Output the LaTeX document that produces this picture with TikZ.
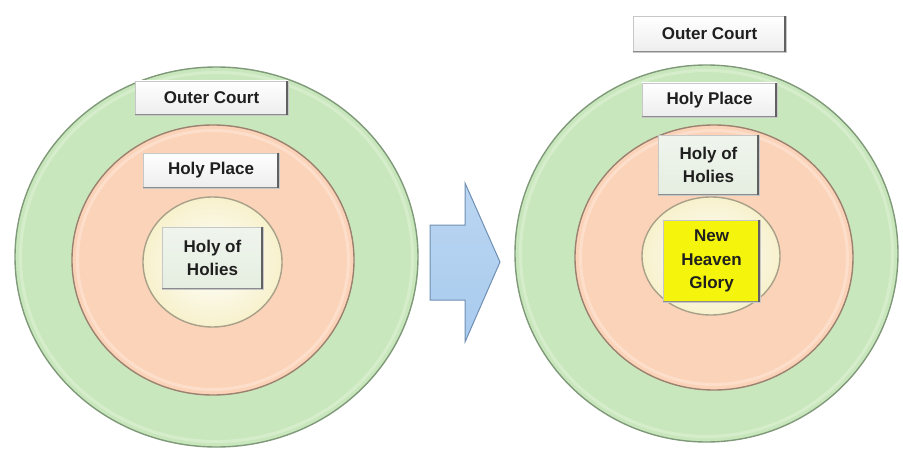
\documentclass[tikz,border=0pt]{standalone}
\usepackage{fontspec}
\setmainfont{Liberation Sans}
\usetikzlibrary{shapes.geometric}

\definecolor{ringgreen}{HTML}{C9E7BC}
\definecolor{greenedge}{HTML}{7F9979}
\definecolor{ringsalmon}{HTML}{FBD3B9}
\definecolor{salmonedge}{HTML}{9C8170}
\definecolor{ringcream}{HTML}{F7F1CC}
\definecolor{creamedge}{HTML}{A8A088}
\definecolor{boxgreen}{HTML}{E5EEE1}
\definecolor{glory}{HTML}{F4F40C}
\definecolor{arrowblue}{HTML}{A9CBEE}
\definecolor{arrowedge}{HTML}{6F8FB3}

\tikzset{
  ring/.style={ellipse, inner sep=0pt, line width=1.4pt},
  highlight/.style={white, opacity=0.25, line width=3pt},
  labelbox/.style={rectangle, inner sep=0pt, draw=black!22, line width=0.7pt,
    font=\bfseries\fontsize{17}{23.5}\selectfont, align=center, text=black!88},
  whitebox/.style={labelbox, top color=white, bottom color=black!7},
  greenbox/.style={labelbox, top color=boxgreen!60, bottom color=boxgreen},
  yellowbox/.style={labelbox, fill=glory},
}

\begin{document}
\begin{tikzpicture}[x=1pt, y=-1pt]
  \useasboundingbox (0,0) rectangle (903,452);
  \fill[white] (0,0) rectangle (903,452);

  % left court plan
  \node[ring, draw=greenedge, fill=ringgreen, minimum width=403pt, minimum height=380pt] (g1) at (216.5,257) {};
  \node[ring, draw=salmonedge, fill=ringsalmon, minimum width=282pt, minimum height=270pt] (s1) at (213,260) {};
  \node[ring, draw=creamedge, inner color=white, outer color=ringcream, minimum width=139pt, minimum height=130pt] (c1) at (212.5,262) {};

  % right court plan
  \node[ring, draw=greenedge, fill=ringgreen, minimum width=383pt, minimum height=377pt] (g2) at (706.5,253.5) {};
  \node[ring, draw=salmonedge, fill=ringsalmon, minimum width=278pt, minimum height=265pt] (s2) at (714,257.5) {};
  \node[ring, draw=creamedge, inner color=white, outer color=ringcream, minimum width=138pt, minimum height=118pt] (c2) at (711,256) {};

  % soft highlights just inside the ring edges
  \draw[highlight] (216.5,257) ellipse [x radius=196pt, y radius=184.5pt];
  \draw[highlight] (213,260) ellipse [x radius=135.5pt, y radius=129.5pt];
  \draw[highlight] (706.5,253.5) ellipse [x radius=186pt, y radius=183pt];
  \draw[highlight] (714,257.5) ellipse [x radius=133.5pt, y radius=127pt];

  % transition arrow
  \draw[arrowedge, line width=1pt, top color=arrowblue!80!white, bottom color=arrowblue, line join=miter]
    (430,225) -- (465,225) -- (465,183) -- (500,262) -- (465,342) -- (465,300) -- (430,300) -- cycle;

  % labels, left
  \node[whitebox, minimum width=153pt, minimum height=34pt] (oc1) at (211.5,98) {Outer Court};
  \node[whitebox, minimum width=136pt, minimum height=35pt] (hp1) at (211,170.5) {Holy Place};
  \node[greenbox, minimum width=101pt, minimum height=62pt] (hh1) at (212.5,258) {Holy of\\Holies};

  % labels, right
  \node[whitebox, minimum width=153pt, minimum height=36pt] (oc2) at (709.5,34) {Outer Court};
  \node[whitebox, minimum width=135pt, minimum height=34pt] (hp2) at (709.5,100) {Holy Place};
  \node[greenbox, minimum width=101pt, minimum height=60pt] (hh2) at (708.5,165) {Holy of\\Holies};
  \node[yellowbox, minimum width=97pt, minimum height=82pt] (nh) at (711.5,261) {New\\Heaven\\Glory};

  % bevel shadows on the label boxes
  \foreach \n in {oc1,hp1,hh1,oc2,hp2,hh2,nh} {
    \draw[black!62, line width=2.6pt] ([xshift=-1.3pt]\n.north east) -- ([xshift=-1.3pt]\n.south east);
    \draw[black!45, line width=1.6pt] ([yshift=0.8pt]\n.south west) -- ([xshift=-2pt,yshift=0.8pt]\n.south east);
  }
\end{tikzpicture}
\end{document}
